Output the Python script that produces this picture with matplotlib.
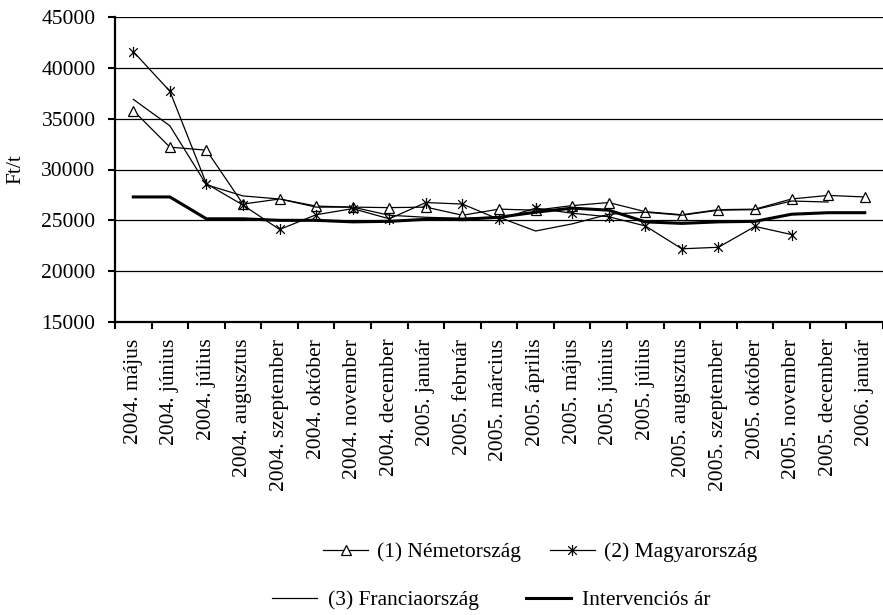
import numpy as np
import matplotlib
matplotlib.use("Agg")
import matplotlib.pyplot as plt
from matplotlib.path import Path

# ----------------------------
# Data (Ft/t)
# ----------------------------
months = [
    "2004. május", "2004. június", "2004. július", "2004. augusztus",
    "2004. szeptember", "2004. október", "2004. november", "2004. december",
    "2005. január", "2005. február", "2005. március", "2005. április",
    "2005. május", "2005. június", "2005. július", "2005. augusztus",
    "2005. szeptember", "2005. október", "2005. november", "2005. december",
    "2006. január",
]
nemetorszag = [35800, 32200, 31900, 26600, 27100, 26400, 26300, 26250, 26300,
               25500, 26100, 26000, 26450, 26750, 25850, 25550, 26050, 26100,
               27100, 27450, 27300]
magyarorszag = [41600, 37700, 28600, 26500, 24100, 25550, 26150, 25150, 26750,
                26600, 25100, 26200, 25700, 25350, 24450, 22200, 22350, 24400,
                23600, np.nan, np.nan]
franciaorszag = [36900, 34300, 28500, 27400, 27100, 26300, 26300, 25500, 25300,
                 25200, 25300, 23950, 24650, 25600, 25800, 25500, 26000, 26050,
                 26900, 26800, np.nan]
intervencios = [27300, 27300, 25150, 25150, 25000, 25000, 24850, 24900, 25100,
                25100, 25300, 25800, 26200, 26000, 24850, 24700, 24850, 24900,
                25600, 25750, 25750]

plt.rcParams["font.family"] = ["Liberation Serif", "DejaVu Serif"]
FS = 15.5

# Excel-like star marker: X with a vertical bar
star = Path([(-1, -1), (1, 1), (-1, 1), (1, -1), (0, -1.3), (0, 1.3)],
            [Path.MOVETO, Path.LINETO, Path.MOVETO, Path.LINETO,
             Path.MOVETO, Path.LINETO])

fig = plt.figure(figsize=(8.83, 6.15), dpi=100)
ax = fig.add_axes([115 / 883, 1 - 322 / 615, 768 / 883, 305 / 615])

x = np.arange(len(months))
l1, = ax.plot(x, nemetorszag, color="black", lw=0.9, marker="^", ms=7,
              mfc="white", mec="black", mew=0.9, label="(1) Németország")
l2, = ax.plot(x, magyarorszag, color="black", lw=0.9, marker=star, ms=8,
              mec="black", mew=0.9, label="(2) Magyarország")
l3, = ax.plot(x, franciaorszag, color="black", lw=0.9,
              label="(3) Franciaország")
l4, = ax.plot(x, intervencios, color="black", lw=2.2,
              label="Intervenciós ár")

ax.set_xlim(-0.5, len(months) - 0.5)
ax.set_ylim(15000, 45000)
ax.set_yticks(np.arange(15000, 45001, 5000))
ax.grid(axis="y", color="black", lw=0.9)
ax.set_axisbelow(True)

ax.set_xticks(x)
ax.set_xticklabels(months, rotation=90, fontsize=FS)
ax.set_xticks(np.arange(-0.5, len(months), 1), minor=True)
ax.tick_params(axis="x", which="major", length=0, pad=12)
ax.tick_params(axis="x", which="minor", length=5, width=1.5, direction="out")
ax.tick_params(axis="y", length=5, width=1.5, direction="out", pad=9,
               labelsize=FS)

for s in ["top", "right"]:
    ax.spines[s].set_visible(False)
for s in ["left", "bottom"]:
    ax.spines[s].set_linewidth(1.6)

ax.set_ylabel("Ft/t", fontsize=FS)
ax.yaxis.set_label_coords(-0.117, 0.5)

# ----------------------------
# Legend (two rows)
# ----------------------------
leg1 = fig.legend(handles=[l1, l2], loc="center left",
                  bbox_to_anchor=(323 / 883, 1 - 552 / 615), ncol=2,
                  frameon=False, fontsize=FS, borderpad=0, borderaxespad=0,
                  handlelength=2.1, handletextpad=0.4, columnspacing=1.35)
leg2 = fig.legend(handles=[l3, l4], loc="center left",
                  bbox_to_anchor=(272 / 883, 1 - 600 / 615), ncol=2,
                  frameon=False, fontsize=FS, borderpad=0, borderaxespad=0,
                  handlelength=2.1, handletextpad=0.5, columnspacing=2.2)

fig.savefig("out.png", dpi=100)
plt.close(fig)
